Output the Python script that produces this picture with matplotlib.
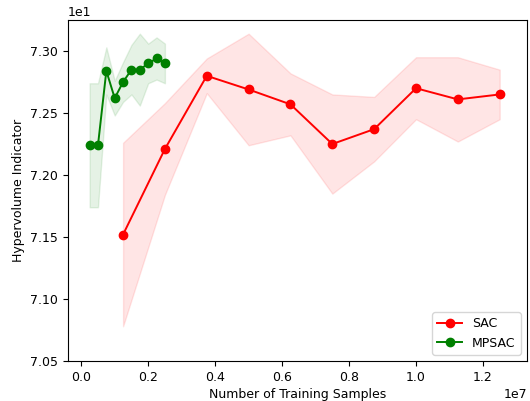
import matplotlib
matplotlib.use("Agg")
import matplotlib.pyplot as plt
import numpy as np

# ── Data ────────────────────────────────────────────────────────────────────
sac_x = [1.25e6, 2.5e6, 3.75e6, 5.0e6, 6.25e6, 7.5e6, 8.75e6, 1.0e7, 1.125e7, 1.25e7]
sac_mean = [71.52, 72.21, 72.80, 72.69, 72.57, 72.25, 72.37, 72.70, 72.61, 72.65]
sac_std = [0.74, 0.37, 0.14, 0.45, 0.25, 0.40, 0.26, 0.25, 0.34, 0.20]

mpsac_x = [2.5e5, 5.0e5, 7.5e5, 1.0e6, 1.25e6, 1.5e6, 1.75e6, 2.0e6, 2.25e6, 2.5e6]
mpsac_mean = [72.24, 72.24, 72.84, 72.62, 72.75, 72.85, 72.85, 72.90, 72.94, 72.90]
mpsac_std = [0.50, 0.50, 0.19, 0.14, 0.16, 0.20, 0.29, 0.16, 0.17, 0.16]

plt.rcParams["font.size"] = 9

# ── Figure ──────────────────────────────────────────────────────────────────
fig = plt.figure(figsize=(5.3, 4.01), dpi=100)
ax = fig.add_axes([0.128, 0.0998, 0.866, 0.8502])

for x, m, s, colour, label in [
    (sac_x, sac_mean, sac_std, "red", "SAC"),
    (mpsac_x, mpsac_mean, mpsac_std, "green", "MPSAC"),
]:
    x, m, s = np.array(x), np.array(m), np.array(s)
    ax.plot(x, m, "-o", color=colour, label=label, markersize=6, lw=1.4)
    ax.fill_between(x, m - s, m + s, color=colour, alpha=0.1)

ax.set_xlim(-0.04e7, 1.331e7)
ax.set_ylim(70.5, 73.25)
ax.set_yticks(np.arange(70.5, 73.01, 0.5))
ax.set_xticks(np.arange(0, 1.21e7, 0.2e7))
ax.ticklabel_format(axis="y", style="sci", scilimits=(0, 0))
ax.ticklabel_format(axis="x", style="sci", scilimits=(0, 0))

ax.set_xlabel("Number of Training Samples", labelpad=3)
ax.set_ylabel("Hypervolume Indicator")
ax.legend(loc="lower right")

fig.savefig("out.png", dpi=100)
